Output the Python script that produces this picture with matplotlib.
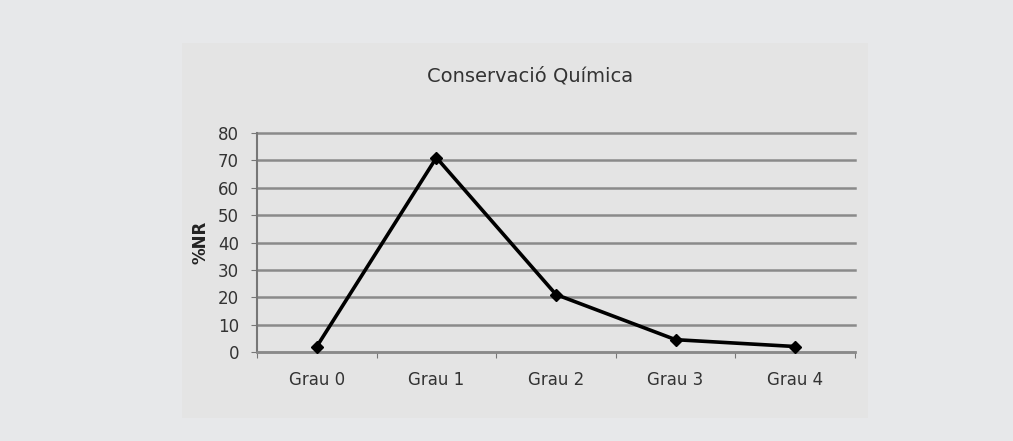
import matplotlib.pyplot as plt
from matplotlib.patches import Rectangle

# dades
categories = ["Grau 0", "Grau 1", "Grau 2", "Grau 3", "Grau 4"]
values = [2, 71, 21, 4.5, 2]
yticks = [0, 10, 20, 30, 40, 50, 60, 70, 80]

fig = plt.figure(figsize=(10.13, 4.41), dpi=100)
fig.patch.set_facecolor("#e7e8ea")

# panell interior
fig.patches.append(Rectangle((182 / 1013, 23 / 441), 686 / 1013, 375 / 441,
                             transform=fig.transFigure, facecolor="#e4e4e4",
                             edgecolor="none", zorder=-1))

ax = fig.add_axes([257 / 1013, 1 - 352 / 441, 598 / 1013, 219 / 441])
ax.set_zorder(2)
ax.set_facecolor("#e4e4e4")

x = [i + 0.5 for i in range(len(categories))]
ax.plot(x, values, color="#000000", lw=2.6, marker="D", ms=6, zorder=3, clip_on=False)

ax.set_xlim(0, len(categories))
ax.set_ylim(0, 80)
ax.set_yticks(yticks)
ax.yaxis.grid(True, color="#8a8a8a", lw=1.8)
ax.set_axisbelow(True)
for gl in ax.get_ygridlines():
    gl.set_clip_on(False)

ax.set_xticks(range(len(categories) + 1))
ax.set_xticklabels([])
ax.set_xticks(x, minor=True)
ax.set_xticklabels(categories, minor=True)
ax.tick_params(axis="x", which="minor", length=0, pad=14, labelsize=12, colors="#333333")
ax.tick_params(axis="x", which="major", length=4, color="#777777")
ax.tick_params(axis="y", length=4, pad=9, color="#777777", labelsize=12, labelcolor="#333333")

for s in ["top", "right"]:
    ax.spines[s].set_visible(False)
ax.spines["left"].set_color("#777777")
ax.spines["left"].set_linewidth(1.5)
ax.spines["bottom"].set_color("#8a8a8a")
ax.spines["bottom"].set_linewidth(1.8)

ax.set_ylabel("%NR", fontsize=12, fontweight="bold", color="#222222", labelpad=6)
fig.text(530 / 1013, 1 - 76 / 441, "Conservació Química", ha="center", va="center",
         fontsize=14, color="#333333")

fig.savefig("out.png", dpi=100, facecolor=fig.get_facecolor())
